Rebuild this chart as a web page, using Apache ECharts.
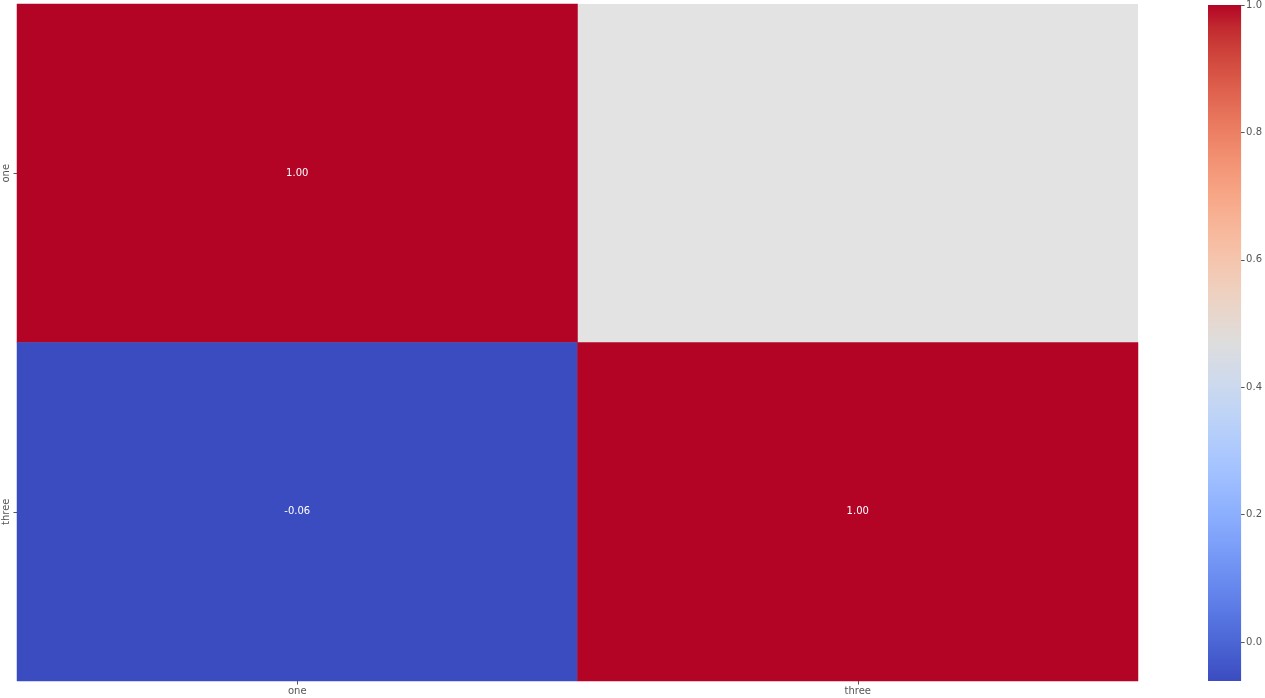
<!DOCTYPE html>
<html><head><meta charset="utf-8">
<script src="https://cdn.jsdelivr.net/npm/echarts@6/dist/echarts.min.js"></script>
<style>html,body{margin:0;padding:0;background:#fff}#c{width:1265px;height:698px}</style>
</head><body><div id="c"></div>
<script>
const xCategories = ['one', 'three'];
const yCategories = ['one', 'three'];
// rows: y category, columns: x category; null = masked cell
const rowOne = [1.00, null];
const rowThree = [-0.0612, 1.00];
const colorbarTicks = [0.0, 0.2, 0.4, 0.6, 0.8, 1.0];
const vMin = -0.0612, vMax = 1.0;

const coolwarm = ['#3b4cc0','#445acc','#4d68d7','#5775e1','#6282ea','#6c8ef1','#779af7','#82a5fb','#8db0fe','#98b9ff','#a3c2ff','#aec9fd','#b8d0f9','#c2d5f4','#ccd9ee','#d5dbe6','#dddddd','#e5d8d1','#ecd3c5','#f1ccb8','#f5c4ac','#f7bb9f','#f7b193','#f7a686','#f49a7b','#f18d6f','#ec7f63','#e57059','#de604d','#d55042','#cb3e38','#c0282f','#b40426'];

const rows = [rowOne, rowThree];
const data = [];
rows.forEach((r, yi) => r.forEach((v, xi) => { if (v !== null) data.push([xi, yi, v]); }));

const gradient = new echarts.graphic.LinearGradient(0, 1, 0, 0,
  coolwarm.map((c, i) => ({ offset: i / (coolwarm.length - 1), color: c })));

const chart = echarts.init(document.getElementById('c'));
const font = 'DejaVu Sans';
chart.setOption({
  animation: false,
  textStyle: { fontFamily: font },
  grid: [
    { left: 17, top: 4, width: 1121, height: 677, show: true, backgroundColor: '#e3e3e3', borderWidth: 0 },
    { left: 1208, top: 4, width: 34, height: 677, show: true, backgroundColor: gradient, borderWidth: 0 }
  ],
  xAxis: [
    { type: 'category', data: xCategories, gridIndex: 0,
      axisLine: { show: false }, splitLine: { show: false },
      axisTick: { show: true, alignWithLabel: true, length: 3.5, lineStyle: { color: '#555' } },
      axisLabel: { color: '#555', fontSize: 10, fontFamily: font, margin: 5 } },
    { type: 'category', data: ['cb'], gridIndex: 1, show: false }
  ],
  yAxis: [
    { type: 'category', data: yCategories, gridIndex: 0, inverse: true,
      axisLine: { show: false }, splitLine: { show: false },
      axisTick: { show: true, alignWithLabel: true, length: 3.5, lineStyle: { color: '#555' } },
      axisLabel: { color: '#555', fontSize: 10, fontFamily: font, rotate: 90, margin: 6 } },
    { type: 'value', gridIndex: 1, position: 'right', min: vMin, max: vMax,
      axisLine: { show: false, onZero: false }, splitLine: { show: false },
      axisTick: { show: true, inside: false, length: 3.5, lineStyle: { color: '#555' }, customValues: colorbarTicks },
      axisLabel: { color: '#555', fontSize: 10, fontFamily: font, margin: 5,
        customValues: colorbarTicks, formatter: v => v.toFixed(1) } }
  ],
  visualMap: {
    type: 'continuous', min: vMin, max: vMax, calculable: false, seriesIndex: 0,
    show: false, inRange: { color: coolwarm }
  },
  series: [{
    type: 'heatmap', xAxisIndex: 0, yAxisIndex: 0, data: data,
    label: { show: true, color: '#fff', fontSize: 10, fontFamily: font,
      formatter: p => p.value[2].toFixed(2) },
    itemStyle: { borderWidth: 0 },
    emphasis: { disabled: true }
  }]
});
</script></body></html>
